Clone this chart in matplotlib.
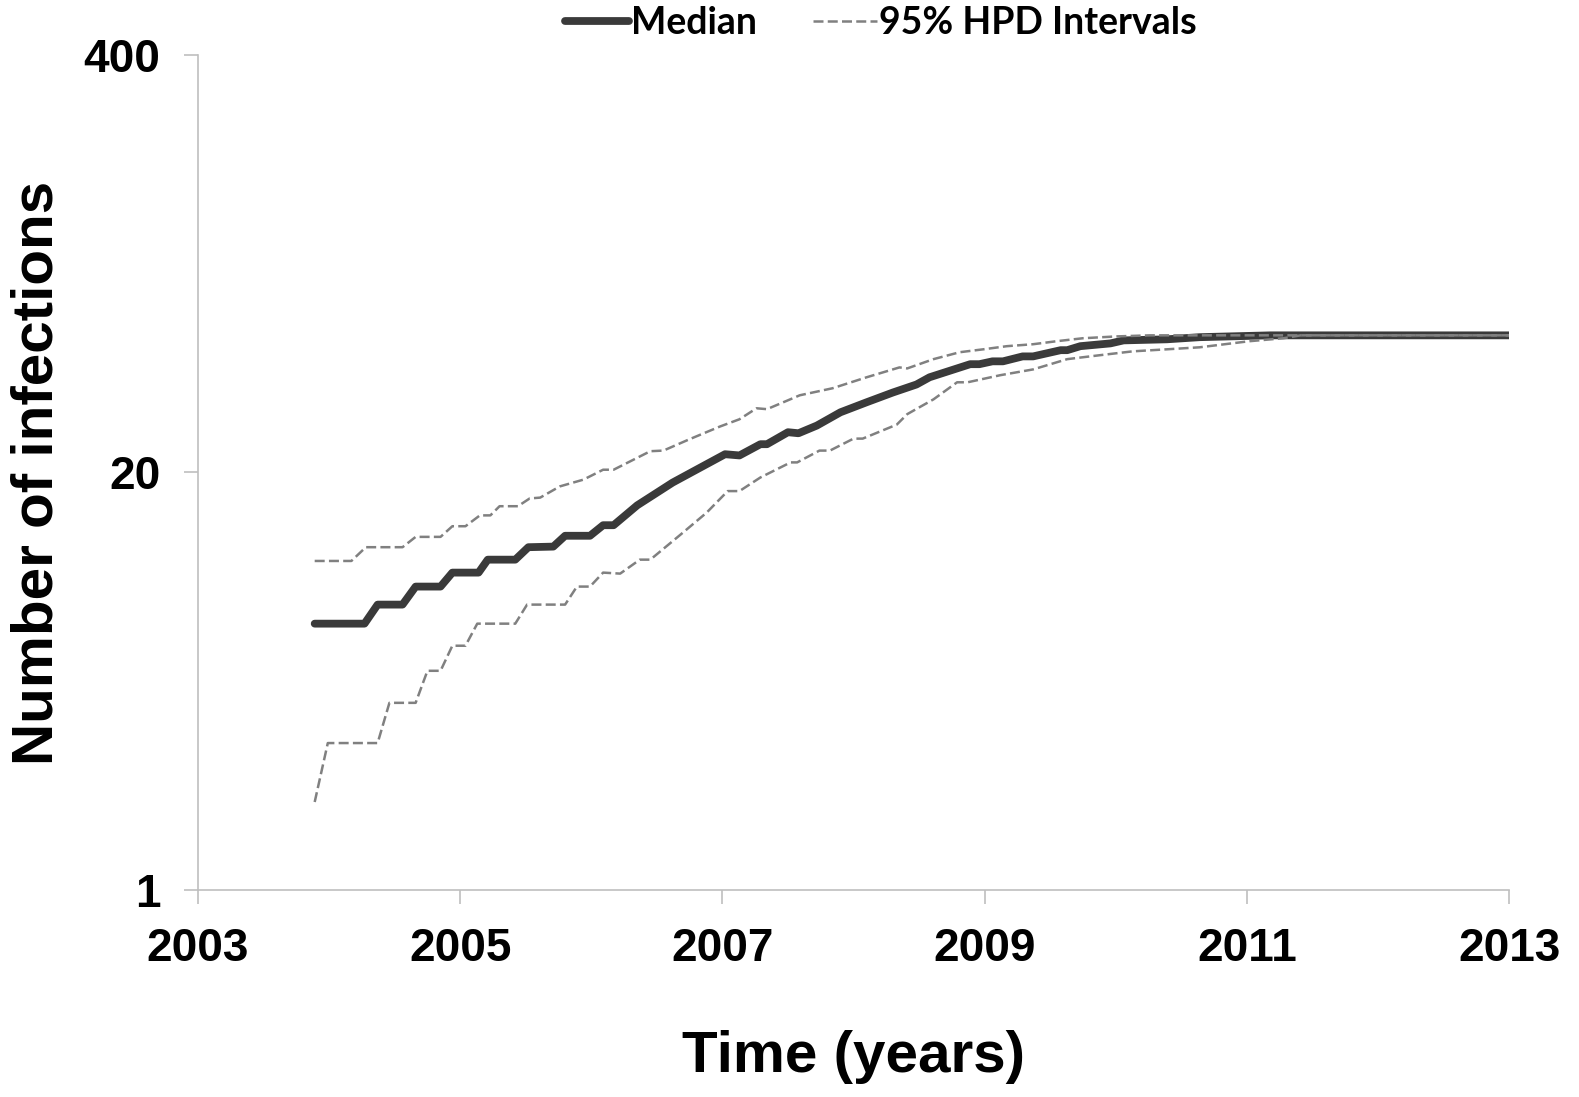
import matplotlib

matplotlib.use("Agg")
import matplotlib.pyplot as plt
from matplotlib.ticker import FixedLocator, NullLocator, FixedFormatter

# values (time in years, number of infections)
median_t = [2003.89, 2004.27, 2004.37, 2004.56, 2004.66, 2004.85, 2004.94, 2005.14,
            2005.21, 2005.42, 2005.52, 2005.71, 2005.80, 2005.99, 2006.09, 2006.17,
            2006.35, 2006.62, 2006.83, 2007.02, 2007.13, 2007.29, 2007.34, 2007.50,
            2007.58, 2007.72, 2007.90, 2008.10, 2008.30, 2008.48, 2008.58, 2008.89,
            2008.96, 2009.06, 2009.14, 2009.29, 2009.37, 2009.58, 2009.63, 2009.73,
            2009.96, 2010.06, 2010.39, 2010.64, 2011.18, 2013.00]
median_v = [6.76, 6.76, 7.75, 7.75, 8.82, 8.82, 9.75, 9.75,
            10.7, 10.7, 11.7, 11.75, 12.7, 12.7, 13.7, 13.7,
            15.8, 18.6, 20.7, 22.8, 22.6, 24.5, 24.5, 26.7,
            26.5, 28.0, 30.8, 33.1, 35.5, 37.6, 39.6, 43.5,
            43.5, 44.4, 44.4, 46.0, 46.0, 48.1, 48.1, 49.5,
            50.5, 51.6, 52.0, 52.8, 53.5, 53.5]

upper_t = [2003.89, 2004.17, 2004.28, 2004.56, 2004.66, 2004.85, 2004.94, 2005.04,
           2005.15, 2005.23, 2005.30, 2005.44, 2005.53, 2005.61, 2005.76, 2005.94,
           2006.09, 2006.17, 2006.45, 2006.55, 2006.75, 2006.98, 2007.13, 2007.26,
           2007.34, 2007.59, 2007.84, 2008.10, 2008.35, 2008.41, 2008.61, 2008.81,
           2008.99, 2009.17, 2009.37, 2009.55, 2009.75, 2010.01, 2010.26, 2013.00]
upper_v = [10.6, 10.6, 11.7, 11.7, 12.6, 12.6, 13.6, 13.6,
           14.7, 14.7, 15.7, 15.7, 16.6, 16.7, 18.1, 19.0,
           20.4, 20.4, 23.3, 23.4, 25.4, 27.8, 29.3, 31.7,
           31.5, 34.8, 36.6, 39.6, 42.5, 42.2, 45.1, 47.4,
           48.4, 49.5, 50.2, 51.3, 52.4, 53.1, 53.5, 53.5]

lower_t = [2003.89, 2003.99, 2004.37, 2004.46, 2004.66, 2004.75, 2004.85, 2004.94,
           2005.04, 2005.13, 2005.42, 2005.51, 2005.80, 2005.89, 2005.99, 2006.09,
           2006.22, 2006.37, 2006.45, 2006.68, 2006.88, 2007.04, 2007.13, 2007.29,
           2007.52, 2007.57, 2007.74, 2007.82, 2008.00, 2008.07, 2008.33, 2008.41,
           2008.61, 2008.79, 2008.87, 2009.12, 2009.37, 2009.63, 2009.88, 2010.13,
           2010.39, 2010.64, 2011.02, 2011.28, 2011.41, 2013.00]
lower_v = [1.88, 2.87, 2.87, 3.83, 3.83, 4.82, 4.82, 5.77,
           5.77, 6.76, 6.76, 7.75, 7.75, 8.82, 8.82, 9.75,
           9.68, 10.7, 10.7, 12.8, 15.0, 17.5, 17.5, 19.3,
           21.5, 21.5, 23.4, 23.4, 25.5, 25.5, 28.2, 30.4,
           33.8, 38.2, 38.2, 40.2, 41.9, 45.1, 46.4, 47.7,
           48.4, 49.1, 51.3, 52.4, 53.5, 53.5]

x_ticks = [2003, 2005, 2007, 2009, 2011, 2013]
y_ticks = [1, 20, 400]

AXIS_GREY = "#bfbfbf"
MEDIAN_COL = "#3a3a3a"
HPD_COL = "#808080"

fig = plt.figure(figsize=(15.79, 10.97), dpi=100)
ax = fig.add_axes([0.1254, 0.1887, 0.8303, 0.7612])

ax.plot(median_t, median_v, color=MEDIAN_COL, linewidth=5.6,
        solid_capstyle="round", solid_joinstyle="round", zorder=2, label="Median")
ax.plot(upper_t, upper_v, color=HPD_COL, linewidth=1.8,
        linestyle=(0, (4, 1.7)), zorder=3, label="95% HPD Intervals")
ax.plot(lower_t, lower_v, color=HPD_COL, linewidth=1.8,
        linestyle=(0, (4, 1.7)), zorder=3)

ax.set_yscale("log")
ax.set_ylim(1, 400)
ax.set_xlim(2003, 2013)
ax.yaxis.set_major_locator(FixedLocator(y_ticks))
ax.yaxis.set_major_formatter(FixedFormatter([str(v) for v in y_ticks]))
ax.yaxis.set_minor_locator(NullLocator())
ax.set_xticks(x_ticks)

for side in ("top", "right"):
    ax.spines[side].set_visible(False)
for side in ("left", "bottom"):
    ax.spines[side].set_color(AXIS_GREY)
    ax.spines[side].set_linewidth(1.2)

ax.tick_params(axis="both", direction="out", length=10, width=1.2,
               color=AXIS_GREY, pad=17)
for lab in ax.get_xticklabels() + ax.get_yticklabels():
    lab.set_fontfamily("Liberation Sans")
    lab.set_fontweight("bold")
    lab.set_fontsize(33)

ax.set_xlabel("Time (years)", fontfamily="Liberation Sans", fontweight="bold",
              fontsize=42, labelpad=42)
ax.set_ylabel("Number of infections", fontfamily="Liberation Sans",
              fontweight="bold", fontsize=42, labelpad=14)

fig.legend(loc="center", bbox_to_anchor=(0.558, 0.979), ncol=2, frameon=False,
           prop=dict(family="Lato", weight="bold", size=27),
           handlelength=1.7, handletextpad=0.05, columnspacing=1.5)

fig.savefig("out.png", dpi=100)
plt.close(fig)
